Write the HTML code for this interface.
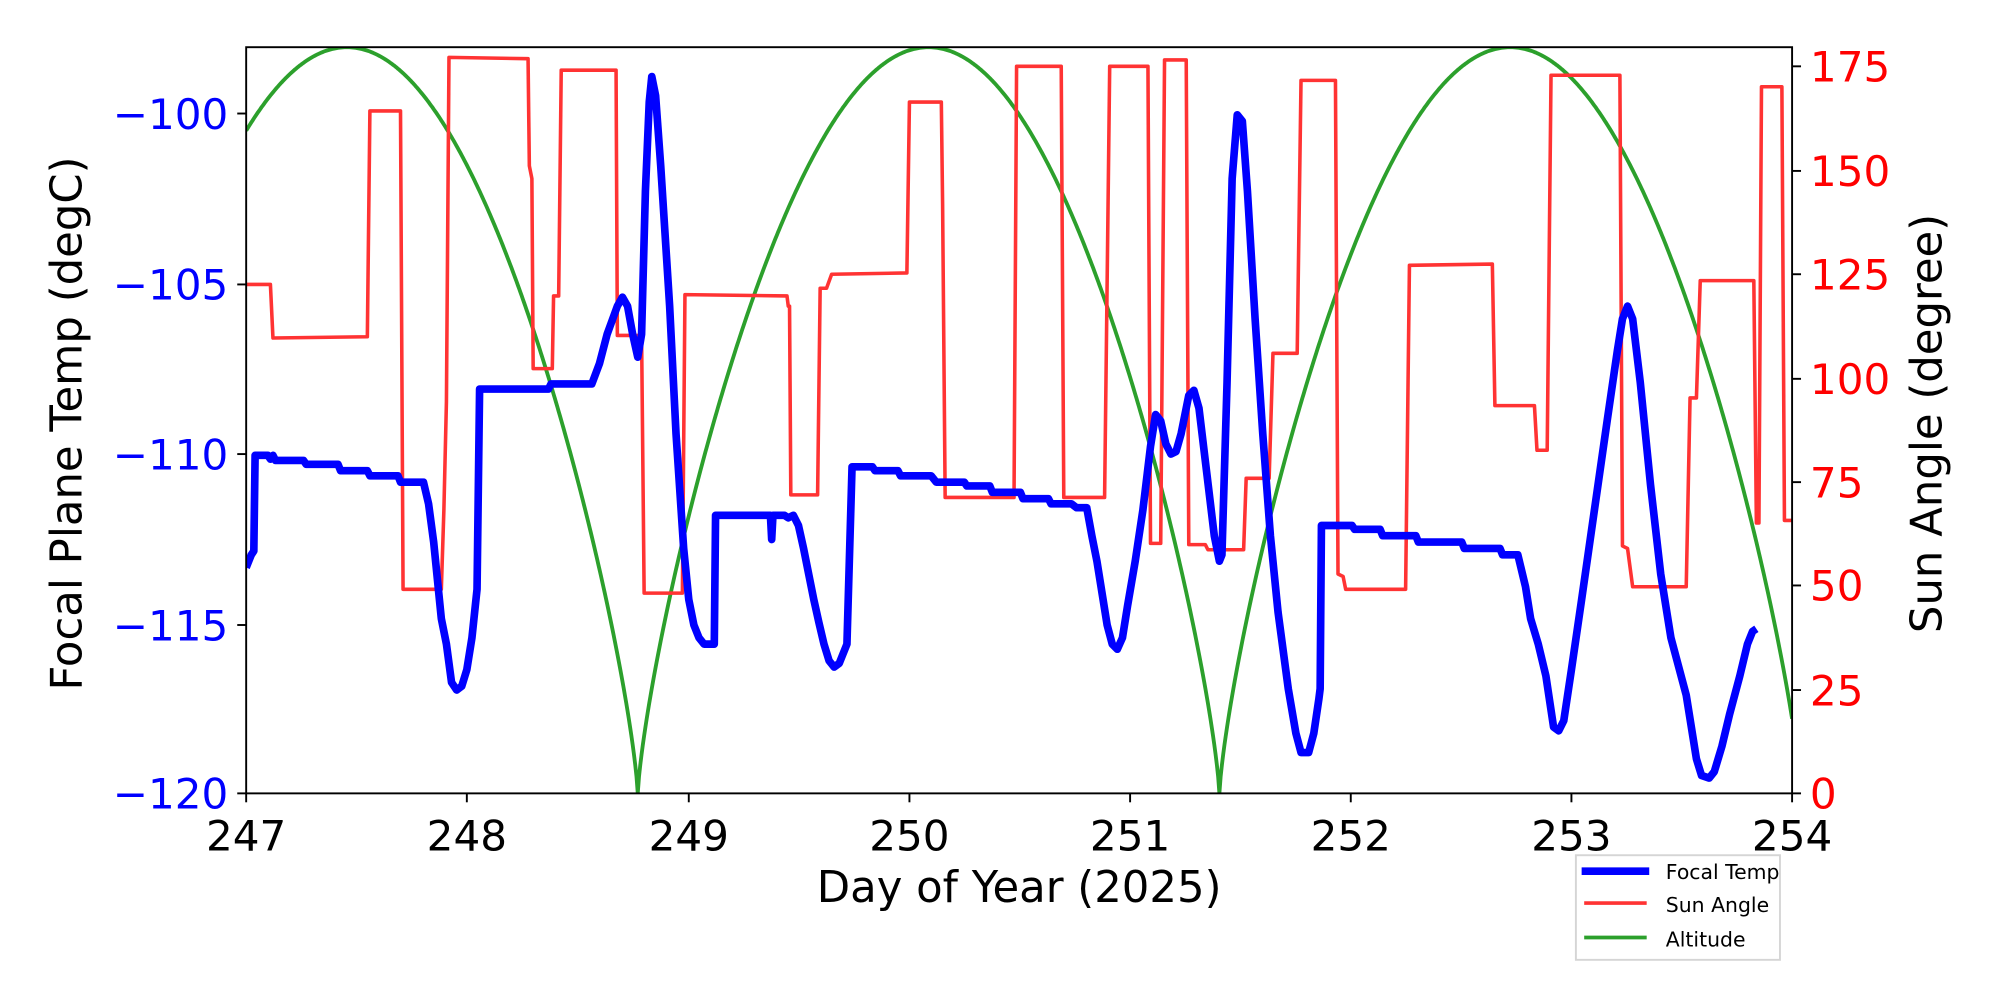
<!DOCTYPE html>
<html><head><meta charset="utf-8"><style>
html,body{margin:0;padding:0;background:#fff;}
svg{display:block;}
text{font-family:"DejaVu Sans","Liberation Sans",sans-serif;}
</style></head><body>
<svg id="s" width="2000" height="1000" viewBox="0 0 1568 784" xmlns="http://www.w3.org/2000/svg">
<rect width="1568" height="784" fill="#fff"/>
<defs><clipPath id="c"><rect x="193" y="37" width="1212" height="585"/></clipPath></defs>
<g clip-path="url(#c)">
<path id="green" fill="none" stroke="#2ca02c" stroke-width="3"/>
<polyline fill="none" stroke="#ff3333" stroke-width="2.8" stroke-linejoin="round" points="
193,223 212,223 214,265 288,264 290,87 314,87 316,462 346,462 348,400 350,315 352,45 414,46 415,130 417,140 418,289 433,289 434,232 438,232 440,55 483,55 484,263 503,263 505,465 535,465 537,231 617,232 618,240 619,240 620,388 641,388 643,226 648,226 652,215 711,214 713,80 738,80 739,160 741,390 795,390 797,52 832,52 834,390 866,390 870,52 900,52 902,426 910,426 913,47 930,47 932,427 945,427 947,431 975,431 977,375 995,375 998,277 1017,277 1020,63 1047,63 1049,450 1053,452 1055,462 1102,462 1105,208 1170,207 1172,318 1203,318 1205,353 1213,353 1216,59 1270,59 1272,428 1276,430 1280,460 1322,460 1325,312 1330,312 1333,220 1375,220 1377,410 1379,410 1381,68 1397,68 1399,408 1405,408"/>
<polyline fill="none" stroke="#0000ff" stroke-width="6" stroke-linejoin="round" points="
193,445 197,435 199,432 200,357 210,357 212,360 214,357 216,361 238,361 240,364 265,364 267,369 288,369 290,373 312,373 314,378 332,378 336,395 340,425 346,485 350,505 354,535 358,541 362,538 366,525 370,500 374,462 376,305 430,305 432,301 464,301 470,285 476,262 484,240 488,233 492,240 496,262 500,280 503,262 506,150 509,80 511,60 514,75 518,130 525,240 530,340 536,430 540,470 544,490 548,500 552,505 560,505 561,404 604,404 605,423 606,404 615,404 618,406 622,404 626,412 630,430 634,450 638,470 642,488 646,505 650,518 654,523 658,520 664,505 668,366 684,366 686,369 704,369 706,373 730,373 734,378 756,378 758,381 776,381 778,386 800,386 802,391 822,391 824,395 840,395 844,398 852,398 856,420 860,440 864,465 868,490 872,505 876,509 880,500 884,475 890,440 896,400 902,350 906,325 910,330 914,348 918,356 922,354 926,340 932,310 936,306 940,320 946,370 952,420 956,440 958,435 962,300 966,140 970,90 974,95 978,150 984,250 990,340 996,420 1002,480 1010,540 1016,575 1020,590 1026,590 1030,575 1034,548 1035,540 1036,412 1060,412 1062,415 1082,415 1084,420 1110,420 1112,425 1146,425 1148,430 1176,430 1178,435 1190,435 1196,460 1200,485 1206,505 1212,530 1218,570 1222,573 1226,565 1232,525 1240,470 1250,400 1260,330 1268,275 1272,250 1276,240 1280,250 1286,300 1294,380 1302,450 1310,500 1318,530 1322,545 1326,570 1330,595 1334,608 1340,610 1344,605 1350,585 1356,560 1364,530 1370,505 1374,495 1377,493"/>
</g>
<rect x="193" y="37" width="1212" height="585" fill="none" stroke="#000" stroke-width="1.5"/>
<g stroke="#000" stroke-width="1.5">
<line x1="193" y1="622" x2="193" y2="629"/><line x1="366" y1="622" x2="366" y2="629"/><line x1="540" y1="622" x2="540" y2="629"/><line x1="713" y1="622" x2="713" y2="629"/><line x1="886" y1="622" x2="886" y2="629"/><line x1="1059" y1="622" x2="1059" y2="629"/><line x1="1232" y1="622" x2="1232" y2="629"/><line x1="1405" y1="622" x2="1405" y2="629"/>
<line x1="186" y1="89" x2="193" y2="89"/><line x1="186" y1="223" x2="193" y2="223"/><line x1="186" y1="356" x2="193" y2="356"/><line x1="186" y1="490" x2="193" y2="490"/><line x1="186" y1="622" x2="193" y2="622"/>
<line x1="1405" y1="622" x2="1412" y2="622"/><line x1="1405" y1="541" x2="1412" y2="541"/><line x1="1405" y1="459" x2="1412" y2="459"/><line x1="1405" y1="378" x2="1412" y2="378"/><line x1="1405" y1="297" x2="1412" y2="297"/><line x1="1405" y1="215" x2="1412" y2="215"/><line x1="1405" y1="134" x2="1412" y2="134"/><line x1="1405" y1="52" x2="1412" y2="52"/>
</g>
<g font-size="33" fill="#000" text-anchor="middle">
<text x="193" y="667">247</text><text x="366" y="667">248</text><text x="540" y="667">249</text><text x="713" y="667">250</text><text x="886" y="667">251</text><text x="1059" y="667">252</text><text x="1232" y="667">253</text><text x="1405" y="667">254</text>
</g>
<g font-size="33" fill="#0000ff" text-anchor="end">
<text x="179" y="101">−100</text><text x="179" y="235">−105</text><text x="179" y="368">−110</text><text x="179" y="502">−115</text><text x="179" y="634">−120</text>
</g>
<g font-size="33" fill="#ff0000" text-anchor="start">
<text x="1419" y="634">0</text><text x="1419" y="553">25</text><text x="1419" y="471">50</text><text x="1419" y="390">75</text><text x="1419" y="309">100</text><text x="1419" y="227">125</text><text x="1419" y="146">150</text><text x="1419" y="64">175</text>
</g>
<text x="799" y="707" font-size="34" text-anchor="middle">Day of Year (2025)</text>
<text transform="translate(64,332) rotate(-90)" font-size="34" text-anchor="middle">Focal Plane Temp (degC)</text>
<text transform="translate(1522,332) rotate(-90)" font-size="34" text-anchor="middle">Sun Angle (degree)</text>
<rect x="1235.5" y="670.5" width="160" height="82" fill="#fff" stroke="#d5d5d5" stroke-width="1.5"/>
<line x1="1240" y1="683" x2="1293" y2="683" stroke="#0000ff" stroke-width="6"/>
<line x1="1242" y1="708" x2="1291" y2="708" stroke="#ff3333" stroke-width="2.8"/>
<line x1="1242" y1="735" x2="1291" y2="735" stroke="#2ca02c" stroke-width="3"/>
<g font-size="16" fill="#000"><text x="1306" y="689">Focal Temp</text><text x="1306" y="715">Sun Angle</text><text x="1306" y="742">Altitude</text></g>
</svg>
<script>
var d="";for(var x=193;x<=1405;x+=1){var v=Math.abs(Math.sin(Math.PI*(x-500)/456));v=Math.pow(v,0.76);var y=622-585*v;d+=(x==193?"M":"L")+x+","+y.toFixed(1);}
document.getElementById("green").setAttribute("d",d);
</script>
</body></html>
